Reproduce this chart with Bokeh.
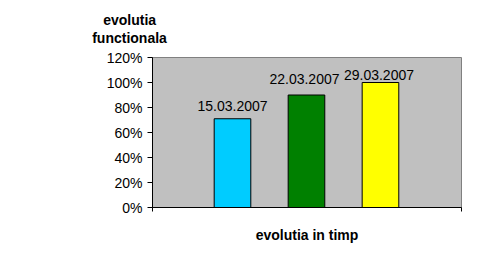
from bokeh.plotting import figure
from bokeh.models import ColumnDataSource, Range1d, FixedTicker, Title, CustomJSTickFormatter, LinearAxis
from bokeh.core.properties import value
from bokeh.embed import file_html
from bokeh.resources import INLINE

# data
dates = ["15.03.2007", "22.03.2007", "29.03.2007"]
values = [71, 90, 100]
colors = ["#00CCFF", "#008000", "#FFFF00"]
positions = [1, 2, 3]
y_ticks = [0, 20, 40, 60, 80, 100, 120]

# label style offsets (pixels)
lab_dx = [0, -2, -1.5]
lab_dy = [12.5, 16, 8]

FONT = "Liberation Sans"

x_start, x_end = -0.081, 4.095
p = figure(width=477, height=262, output_backend="svg", toolbar_location=None,
           x_range=Range1d(x_start, x_end), y_range=Range1d(0, 120),
           min_border_left=152, min_border_right=16, min_border_top=57, min_border_bottom=55,
           x_axis_type=None, y_axis_type=None)
p.background_fill_color = "#C0C0C0"
p.border_fill_color = "white"
p.outline_line_color = "#808080"
p.outline_line_width = 1

yaxis = LinearAxis(ticker=FixedTicker(ticks=y_ticks),
                   formatter=CustomJSTickFormatter(code="return tick + '%';"))
yaxis.axis_line_color = "black"
yaxis.major_tick_line_color = "black"
yaxis.major_tick_out = 5
yaxis.major_tick_in = 0
yaxis.minor_tick_line_color = None
yaxis.major_label_text_font = FONT
yaxis.major_label_text_font_size = "14px"
yaxis.major_label_text_color = "black"
yaxis.major_label_standoff = 5
p.add_layout(yaxis, "left")

xaxis = LinearAxis(ticker=FixedTicker(ticks=[x_start, x_end]),
                   formatter=CustomJSTickFormatter(code="return '';"))
xaxis.axis_line_color = "black"
xaxis.major_tick_line_color = "black"
xaxis.major_tick_out = 4
xaxis.major_tick_in = 0
xaxis.minor_tick_line_color = None
xaxis.major_label_text_font_size = "1px"
xaxis.axis_label = "evolutia in timp"
xaxis.axis_label_text_font = FONT
xaxis.axis_label_text_font_style = "bold"
xaxis.axis_label_text_font_size = "14px"
xaxis.axis_label_text_color = "black"
xaxis.axis_label_standoff = 15
p.add_layout(xaxis, "below")

p.xgrid.visible = False
p.ygrid.ticker = FixedTicker(ticks=[20, 40, 60, 80, 100])
p.ygrid.grid_line_color = "black"
p.ygrid.grid_line_width = 1

src = ColumnDataSource(dict(x=positions, top=values, color=colors, label=dates,
                            dx=lab_dx, dy=[-d for d in lab_dy]))
p.vbar(x="x", top="top", width=0.495, bottom=0, fill_color="color",
       line_color="black", line_width=1, source=src)
p.text(x="x", y="top", text="label", x_offset="dx", y_offset="dy", source=src,
       text_align="center", text_baseline="alphabetic",
       text_font=value(FONT), text_font_size="14px", text_color="black")

for txt, off, so, pad in [("functionala", -60.3, 1, dict(left=0, right=0, top=0, bottom=11)),
                          ("evolutia", -49.3, 0, 0)]:
    p.add_layout(Title(text=txt, align="left", offset=off, standoff=so, padding=pad,
                       text_font=FONT, text_font_style="bold", text_font_size="14px",
                       text_color="black"), "above")

open("out.html", "w").write(file_html(p, INLINE))
